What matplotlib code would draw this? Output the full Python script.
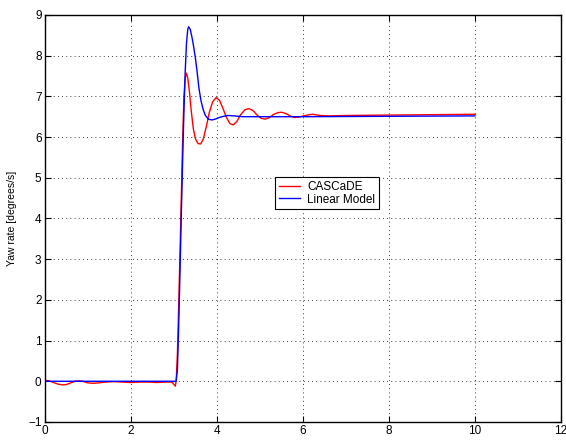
import matplotlib
matplotlib.use("Agg")
import matplotlib.pyplot as plt

plt.rcParams['font.family'] = ['Liberation Sans', 'DejaVu Sans']

# CASCaDE response
t_cascade = [0, 0.1, 0.2, 0.3, 0.41, 0.5, 0.6, 0.7, 0.81, 0.9, 1.0, 1.12, 1.25, 1.4,
             1.6, 1.8, 2.0, 2.2, 2.4, 2.6, 2.8, 2.95, 3.03, 3.05, 3.08, 3.11, 3.14,
             3.17, 3.2, 3.23, 3.26, 3.29, 3.32, 3.36, 3.4, 3.45, 3.5, 3.56, 3.62,
             3.68, 3.75, 3.82, 3.9, 3.98, 4.06, 4.14, 4.22, 4.3, 4.38, 4.46, 4.55,
             4.65, 4.74, 4.84, 4.94, 5.03, 5.12, 5.22, 5.32, 5.42, 5.5, 5.6, 5.7,
             5.8, 5.9, 6.05, 6.22, 6.4, 6.6, 7.0, 8.0, 9.0, 10.0]
y_cascade = [0.02, 0.01, -0.03, -0.07, -0.09, -0.08, -0.04, 0.0, 0.01, -0.01, -0.04,
             -0.05, -0.04, -0.02, -0.01, -0.02, -0.03, -0.02, -0.02, -0.03, -0.02,
             -0.02, -0.12, 0.0, 0.7, 1.9, 3.2, 4.5, 5.9, 6.95, 7.45, 7.57, 7.45,
             7.1, 6.65, 6.2, 5.95, 5.84, 5.83, 5.95, 6.25, 6.6, 6.87, 6.97, 6.9,
             6.7, 6.48, 6.33, 6.30, 6.38, 6.55, 6.67, 6.70, 6.65, 6.53, 6.46, 6.44,
             6.48, 6.56, 6.6, 6.61, 6.58, 6.52, 6.48, 6.49, 6.53, 6.56, 6.53, 6.52,
             6.53, 6.54, 6.55, 6.56]

# Linear model response
t_linear = [0, 1.0, 2.0, 3.0, 3.05, 3.08, 3.11, 3.14, 3.17, 3.2, 3.23, 3.26, 3.29,
            3.32, 3.34, 3.38, 3.42, 3.46, 3.5, 3.54, 3.58, 3.63, 3.68, 3.73, 3.8,
            3.88, 3.96, 4.05, 4.15, 4.25, 4.4, 4.6, 5.0, 6.0, 8.0, 10.0]
y_linear = [0, 0, 0, 0, 0, 0.3, 1.4, 2.7, 4.1, 5.4, 6.6, 7.6, 8.3, 8.65, 8.71, 8.64,
            8.44, 8.2, 7.92, 7.58, 7.2, 6.88, 6.67, 6.53, 6.44, 6.42, 6.44, 6.48,
            6.51, 6.53, 6.52, 6.5, 6.5, 6.5, 6.51, 6.52]

xticks = [0, 2, 4, 6, 8, 10, 12]
yticks = [-1, 0, 1, 2, 3, 4, 5, 6, 7, 8, 9]

fig = plt.figure(figsize=(5.66, 4.40), dpi=100)
ax = fig.add_axes([0.0795, 0.041, 0.9117, 0.925])

ax.plot(t_cascade, y_cascade, color='red', lw=1.0, label='CASCaDE')
ax.plot(t_linear, y_linear, color='blue', lw=1.0, label='Linear Model')

ax.set_xlim(0, 12)
ax.set_ylim(-1, 9)
ax.set_xticks(xticks)
ax.set_yticks(yticks)
ax.grid(True, color='black', linestyle=(0, (1, 4)), linewidth=0.6)
ax.tick_params(direction='in', top=True, right=True, length=4, width=0.8,
               labelsize=8.5, pad=2.5)
for s in ax.spines.values():
    s.set_linewidth(1.0)
ax.set_ylabel('Yaw rate [degrees/s]', fontsize=7.5, labelpad=8)

leg = ax.legend(loc='lower left', bbox_to_anchor=(0.446, 0.523), fontsize=8.5,
                fancybox=False, framealpha=1, edgecolor='black',
                handlelength=1.8, borderpad=0.3, labelspacing=0.05,
                handletextpad=0.6, borderaxespad=0)
leg.get_frame().set_linewidth(0.8)

fig.savefig('out.png', dpi=100)
